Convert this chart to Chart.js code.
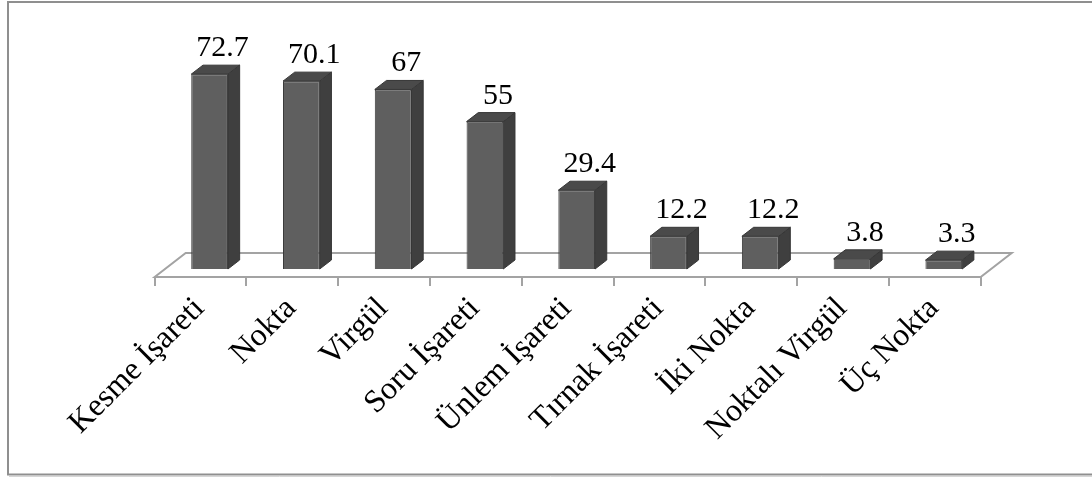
<!DOCTYPE html>
<html>
<head>
<meta charset="utf-8">
<script src="https://cdn.jsdelivr.net/npm/chart.js@4/dist/chart.umd.min.js"></script>
<style>
  html, body { margin: 0; padding: 0; background: #ffffff; }
  #wrap { position: relative; width: 1092px; height: 478px; }
</style>
</head>
<body>
<div id="wrap"><canvas id="c" width="1092" height="478"></canvas></div>
<script>
// Punctuation marks and their percentages
const categories = ['Kesme İşareti', 'Nokta', 'Virgül', 'Soru İşareti', 'Ünlem İşareti',
                    'Tırnak İşareti', 'İki Nokta', 'Noktalı Virgül', 'Üç Nokta'];
const values = [72.7, 70.1, 67, 55, 29.4, 12.2, 12.2, 3.8, 3.3];

// 3D look: bar depth offset and floor offsets (pixels)
const DEPTH = { dx: 11.7, dy: -9 };
const FLOOR_FRONT = { dx: -9, dy: 8 };
const FLOOR_BACK = { dx: 22, dy: -16 };
const SERIF = '"Liberation Serif", "Times New Roman", serif';

const frame = {
  id: 'frame',
  beforeDraw(chart) {
    const ctx = chart.ctx;
    ctx.save();
    ctx.strokeStyle = '#d6d6d6';
    ctx.lineWidth = 1;
    ctx.beginPath();
    ctx.moveTo(9, 476.5); ctx.lineTo(1092, 476.5);
    ctx.stroke();
    ctx.strokeStyle = '#8f8f8f';
    ctx.lineWidth = 2;
    ctx.strokeRect(8, 2, 1100, 472.5);
    ctx.restore();
  }
};

const floor3d = {
  id: 'floor3d',
  beforeDatasetsDraw(chart) {
    const { ctx, chartArea: a } = chart;
    const fl = a.left + FLOOR_FRONT.dx, fr = a.right + FLOOR_FRONT.dx, fy = a.bottom + FLOOR_FRONT.dy;
    const bl = a.left + FLOOR_BACK.dx, br = a.right + FLOOR_BACK.dx, by = a.bottom + FLOOR_BACK.dy;
    ctx.save();
    ctx.strokeStyle = '#a3a3a3';
    ctx.lineWidth = 2;
    ctx.beginPath();
    ctx.moveTo(fl, fy); ctx.lineTo(fr, fy); ctx.lineTo(br, by); ctx.lineTo(bl, by); ctx.closePath();
    ctx.stroke();
    // tick marks at category boundaries along the front edge
    const n = categories.length;
    const step = (a.right - a.left) / n;
    ctx.beginPath();
    for (let i = 0; i <= n; i++) {
      const tx = Math.round(fl + i * step);
      ctx.moveTo(tx, fy); ctx.lineTo(tx, fy + 9);
    }
    ctx.stroke();
    ctx.restore();
  }
};

const bars3d = {
  id: 'bars3d',
  afterDatasetsDraw(chart) {
    const ctx = chart.ctx;
    const meta = chart.getDatasetMeta(0);
    ctx.save();
    meta.data.forEach((bar, i) => {
      const { x, y, base, width } = bar.getProps(['x', 'y', 'base', 'width'], true);
      const l = x - width / 2, r = x + width / 2;
      const { dx, dy } = DEPTH;
      ctx.strokeStyle = '#363636';
      ctx.lineWidth = 1;
      // right side face
      ctx.fillStyle = '#3f3f3f';
      ctx.beginPath();
      ctx.moveTo(r, y); ctx.lineTo(r + dx, y + dy); ctx.lineTo(r + dx, base + dy); ctx.lineTo(r, base);
      ctx.closePath(); ctx.fill(); ctx.stroke();
      // top face
      ctx.fillStyle = '#4a4a4a';
      ctx.beginPath();
      ctx.moveTo(l, y); ctx.lineTo(l + dx, y + dy); ctx.lineTo(r + dx, y + dy); ctx.lineTo(r, y);
      ctx.closePath(); ctx.fill(); ctx.stroke();
      // value label
      ctx.fillStyle = '#000000';
      ctx.font = '30px ' + SERIF;
      ctx.textAlign = 'center';
      ctx.textBaseline = 'alphabetic';
      ctx.fillText(String(values[i]), x + 13, y + dy - 9);
    });
    ctx.restore();
  }
};

new Chart(document.getElementById('c'), {
  type: 'bar',
  data: {
    labels: categories,
    datasets: [{
      data: values,
      backgroundColor: '#5f5f5f',
      borderColor: '#3a3a3a',
      borderWidth: 1,
      barPercentage: 0.4,
      categoryPercentage: 1.0
    }]
  },
  options: {
    responsive: false,
    animation: false,
    events: [],
    layout: { padding: { top: 54.6, left: 163.7, right: 102.3, bottom: 0 } },
    plugins: { legend: { display: false }, tooltip: { enabled: false } },
    scales: {
      x: {
        afterFit(scale) { scale.height = 478 - 269; },
        grid: { display: false, drawTicks: false },
        border: { display: false },
        ticks: {
          autoSkip: false,
          maxRotation: 45,
          minRotation: 45,
          padding: 21,
          labelOffset: -10,
          color: '#000000',
          font: { family: SERIF, size: 32 }
        }
      },
      y: {
        display: false,
        min: 0,
        max: 80
      }
    }
  },
  plugins: [frame, floor3d, bars3d]
});
</script>
</body>
</html>
